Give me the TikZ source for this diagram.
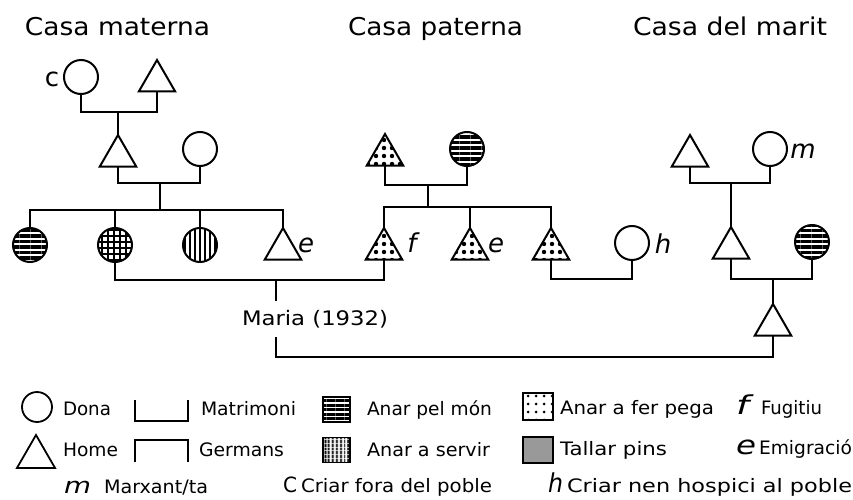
\documentclass[tikz,border=0pt]{standalone}
\usepackage{fontspec}
\setmainfont{DejaVu Sans}
\usetikzlibrary{shapes.geometric,patterns.meta}
\newcommand{\fitw}[2]{\resizebox{#1pt}{\height}{#2}}
\begin{document}
\begin{tikzpicture}[x=1pt,y=-1pt,line width=2pt,
  circ/.style={circle,draw,minimum size=34pt,inner sep=0pt,outer sep=0pt},
  tri/.style={regular polygon,regular polygon sides=3,draw,minimum size=42pt,inner sep=0pt,outer sep=0pt},
  hstripe/.style={pattern={Lines[angle=0,distance=5.5pt,line width=3.8pt]}},
  vstripe/.style={pattern={Lines[angle=90,distance=5pt,line width=2.6pt]}},
  gridpat/.style={pattern={Hatch[distance=6pt,line width=2.6pt]}},
  dotpat/.style={pattern={Dots[distance=8pt,radius=2.2pt]}},
  legbox/.style={rectangle,draw,minimum width=27pt,minimum height=25pt,inner sep=0pt,outer sep=0pt,line width=1.6pt},
  title/.style={anchor=base,inner sep=0pt,font=\fontsize{24.5}{28}\selectfont},
  leg/.style={anchor=base west,inner sep=0pt,font=\fontsize{18.5}{20}\selectfont},
  lab/.style={inner sep=0pt,font=\fontsize{26}{30}\selectfont\itshape}]
\fill[white] (0,0) rectangle (853,500);
\useasboundingbox (0,0) rectangle (853,500);

% titles
\node[title] (t1) at (117.5,36) {\fitw{185}{Casa materna}};
\node[title] (t2) at (435.5,36) {\fitw{175}{Casa paterna}};
\node[title] (t3) at (730,36) {\fitw{194}{Casa del marit}};

% ---- Casa materna
\node[circ] (C1) at (81,77) {};
\node[lab,font=\fontsize{26}{30}\selectfont] (lc) at (52,79) {c};
\node[tri] (T1) at (157,81) {};
\node[tri] (T2) at (118,156) {};
\node[circ] (C2) at (200,149) {};
\node[circ,hstripe] (C3) at (30,245) {};
\node[circ,gridpat] (C4) at (115,245) {};
\node[circ,vstripe] (C5) at (200,245) {};
\node[tri] (T3) at (283,249) {};
\node[lab] (le1) at (306,245) {e};

\coordinate (mm1) at (118,112);
\draw (C1.south) |- (mm1) -| (T1.south);
\draw (mm1) -- (T2.north);
\coordinate (mm2) at (160,183);
\coordinate (sib1) at (160,210);
\draw (T2.south) |- (mm2) -| (C2.south);
\draw (mm2) -- (sib1);
\draw (C3.north) |- (sib1) -| (T3.north);
\draw (C4.north) -- (C4.north |- sib1);
\draw (C5.north) -- (C5.north |- sib1);

% ---- Casa paterna
\node[tri,dotpat] (P1) at (385,155) {};
\node[circ,hstripe] (PC) at (467,149) {};
\node[tri,dotpat] (P2) at (384,249) {};
\node[lab] (lf) at (412,243) {f};
\node[tri,dotpat] (P3) at (470,249) {};
\node[lab] (le2) at (496,245) {e};
\node[tri,dotpat] (P4) at (551,249) {};
\node[circ] (H) at (632,243) {};
\node[lab] (lh) at (663,244) {h};

\coordinate (pm1) at (428,185);
\coordinate (psib) at (428,207);
\draw (P1.south) |- (pm1) -| (PC.south);
\draw (pm1) -- (psib);
\draw (P2.north) |- (psib) -| (P4.north);
\draw (P3.north) -- (P3.north |- psib);
\coordinate (ph) at (592,279);
\draw (P4.south) |- (ph) -| (H.south);

% ---- Casa del marit
\node[tri] (M1) at (690,156) {};
\node[circ] (MC) at (770,149) {};
\node[lab] (lm) at (803,151) {m};
\node[tri] (M2) at (731,248) {};
\node[circ,hstripe] (MC2) at (812,242) {};
\node[tri] (M3) at (773,325) {};

\coordinate (km1) at (731,183);
\draw (M1.south) |- (km1) -| (MC.south);
\draw (km1) -- (M2.north);
\coordinate (km2) at (773,279);
\draw (M2.south) |- (km2) -| (MC2.south);
\draw (km2) -- (M3.north);

% ---- Maria
\node[inner sep=0pt,minimum height=34pt,font=\fontsize{20}{24}\selectfont] (maria) at (315,319) {\fitw{146}{Maria (1932)}};
\coordinate (mar) at (276,280);
\coordinate (mbot) at (276,357);
\draw (C4.south) |- (mar) -| (P2.south);
\draw (mar) -- (mar |- maria.north);
\draw (mar |- maria.south) -- (mbot) -| (M3.south);

% ---- legend
\node[circ,minimum size=30pt,line width=1.8pt] (LD) at (37,407) {};
\node[leg] (lt1) at (62,415) {\fitw{48}{Dona}};
\node[tri,minimum size=44pt,line width=1.8pt] (LH) at (36,457) {};
\node[leg] (lt2) at (62,456) {\fitw{55}{Home}};
\draw[line width=1.8pt] (135,400) |- (188,421) -- (188,400);
\node[leg] (lt3) at (200,415) {\fitw{95}{Matrimoni}};
\draw[line width=1.8pt] (135,462) |- (188,440) -- (188,462);
\node[leg] (lt4) at (198,456) {\fitw{85}{Germans}};
\node[legbox,pattern={Lines[angle=0,distance=4.5pt,line width=3pt]}] (LB1) at (336.5,409.5) {};
\node[leg] (lt5) at (366,415) {\fitw{125}{Anar pel món}};
\node[legbox,pattern={Lines[angle=90,distance=4pt,line width=2.2pt]}] (LB2) at (336.5,450) {};
\node[leg] (lt6) at (366,456) {\fitw{123}{Anar a servir}};
\node[legbox,pattern={Dots[distance=8pt,radius=1.5pt]},minimum width=30pt,minimum height=27pt] (LB3) at (538,406.5) {};
\node[leg] (lt7) at (559,414) {\fitw{154}{Anar a fer pega}};
\node[legbox,fill=black!40,minimum width=30pt,minimum height=26pt] (LB4) at (538,450) {};
\node[leg] (lt8) at (559,455) {\fitw{107}{Tallar pins}};
\node[leg,font=\fontsize{26}{28}\selectfont\itshape] (lt9) at (735,414) {\fitw{13}{f}};
\node[leg] (lt10) at (760,414) {\fitw{61}{Fugitiu}};
\node[leg,font=\fontsize{26}{28}\selectfont\itshape] (lt11) at (735,454) {\fitw{20}{e}};
\node[leg] (lt12) at (758,454) {\fitw{93}{Emigració}};
\node[leg,font=\fontsize{22}{26}\selectfont\itshape] (lt13) at (63,493) {\fitw{27}{m}};
\node[leg] (lt14) at (103,493) {\fitw{104}{Marxant/ta}};
\node[leg,font=\fontsize{21}{24}\selectfont] (lt15) at (282,492) {\fitw{14}{C}};
\node[leg] (lt16) at (300,492) {\fitw{191}{Criar fora del poble}};
\node[leg,font=\fontsize{26}{28}\selectfont\itshape] (lt17) at (547,492) {\fitw{15}{h}};
\node[leg] (lt18) at (566,492) {\fitw{285}{Criar nen hospici al poble}};
\end{tikzpicture}
\end{document}
